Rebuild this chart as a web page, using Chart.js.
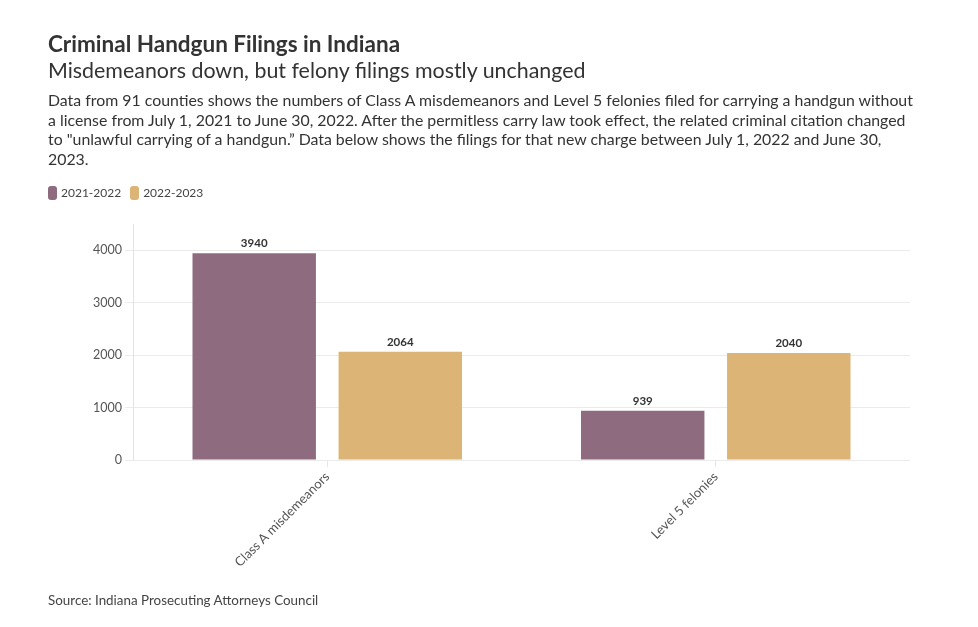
<!DOCTYPE html>
<html>
<head>
<meta charset="utf-8">
<script src="https://cdn.jsdelivr.net/npm/chart.js@4"></script>
<style>
  html, body { margin:0; padding:0; background:#fff; }
  body { width:978px; height:627px; position:relative; overflow:hidden; font-family: Lato, "Noto Sans", sans-serif; color:#333; }
  #title { position:absolute; left:48px; top:30px; font-size:22.5px; font-weight:bold; color:#333; white-space:nowrap; }
  #subtitle { position:absolute; left:48px; top:57px; font-size:21.4px; color:#333; white-space:nowrap; }
  #desc { position:absolute; left:48px; top:90px; font-size:15.85px; line-height:19.5px; color:#333; white-space:nowrap; }
  #legend { position:absolute; left:48px; top:185px; font-size:12px; color:#444; display:flex; align-items:center; }
  .sw { display:inline-block; width:9px; height:14px; border-radius:3px; margin-right:4px; }
  .item { display:flex; align-items:center; margin-right:9px; }
  #source { position:absolute; left:48px; top:592px; font-size:13.4px; color:#444; white-space:nowrap; }
  #c { position:absolute; left:0; top:0; }
</style>
</head>
<body>
<canvas id="c" width="978" height="627"></canvas>
<div id="title">Criminal Handgun Filings in Indiana</div>
<div id="subtitle">Misdemeanors down, but felony filings mostly unchanged</div>
<div id="desc">Data from 91 counties shows the numbers of Class A misdemeanors and Level 5 felonies filed for carrying a handgun without<br>a license from July 1, 2021 to June 30, 2022. After the permitless carry law took effect, the related criminal citation changed<br>to "unlawful carrying of a handgun.” Data below shows the filings for that new charge between July 1, 2022 and June 30,<br>2023.</div>
<div id="legend"></div>
<div id="source">Source: Indiana Prosecuting Attorneys Council</div>
<script>
const categories = ["Class A misdemeanors", "Level 5 felonies"];
const seriesNames = ["2021-2022", "2022-2023"];
const values2021 = [3940, 939];
const values2022 = [2064, 2040];
const yTicks = [0, 1000, 2000, 3000, 4000];
const colors = ["#8f6b80", "#dcb475"];

const legend = document.getElementById('legend');
seriesNames.forEach((n, i) => {
  const it = document.createElement('div'); it.className = 'item';
  it.innerHTML = '<span class="sw" style="background:' + colors[i] + '"></span>' + n;
  legend.appendChild(it);
});

const valueLabels = {
  id: 'valueLabels',
  afterDatasetsDraw(chart) {
    const ctx = chart.ctx;
    ctx.save();
    ctx.font = 'bold 11.5px Lato, "Noto Sans", sans-serif';
    ctx.fillStyle = '#333';
    ctx.textAlign = 'center';
    ctx.textBaseline = 'bottom';
    chart.data.datasets.forEach((ds, di) => {
      chart.getDatasetMeta(di).data.forEach((bar, i) => {
        ctx.fillText(String(ds.data[i]), bar.x, bar.y - 4);
      });
    });
    ctx.restore();
  }
};

new Chart(document.getElementById('c'), {
  type: 'bar',
  data: {
    labels: categories,
    datasets: [
      { label: seriesNames[0], data: values2021, backgroundColor: colors[0], borderWidth: 0 },
      { label: seriesNames[1], data: values2022, backgroundColor: colors[1], borderWidth: 0 }
    ]
  },
  options: {
    responsive: false,
    animation: false,
    categoryPercentage: 0.752,
    barPercentage: 0.845,
    layout: { padding: { left: 0, right: 68, top: 224, bottom: 0 } },
    plugins: { legend: { display: false }, tooltip: { enabled: false } },
    scales: {
      x: {
        afterFit(s) { s.height = 627 - 460; },
        grid: { display: true, drawOnChartArea: false, drawTicks: true, tickLength: 7, offset: false, color: '#e6e6e6' },
        border: { display: false },
        ticks: { maxRotation: 45, minRotation: 45, color: '#555', font: { family: 'Lato, "Noto Sans", sans-serif', size: 13 }, padding: 2 }
      },
      y: {
        min: 0, max: 4500,
        afterFit(s) { s.width = 133; },
        afterBuildTicks(s) { s.ticks = yTicks.map(v => ({ value: v })); },
        grid: { color: '#ebebeb', tickLength: 8, drawTicks: true },
        border: { display: true, color: '#e3e3e3' },
        ticks: { color: '#555', font: { family: 'Lato, "Noto Sans", sans-serif', size: 12.5 }, padding: 3, callback: v => String(v) }
      }
    }
  },
  plugins: [valueLabels]
});
</script>
</body>
</html>
